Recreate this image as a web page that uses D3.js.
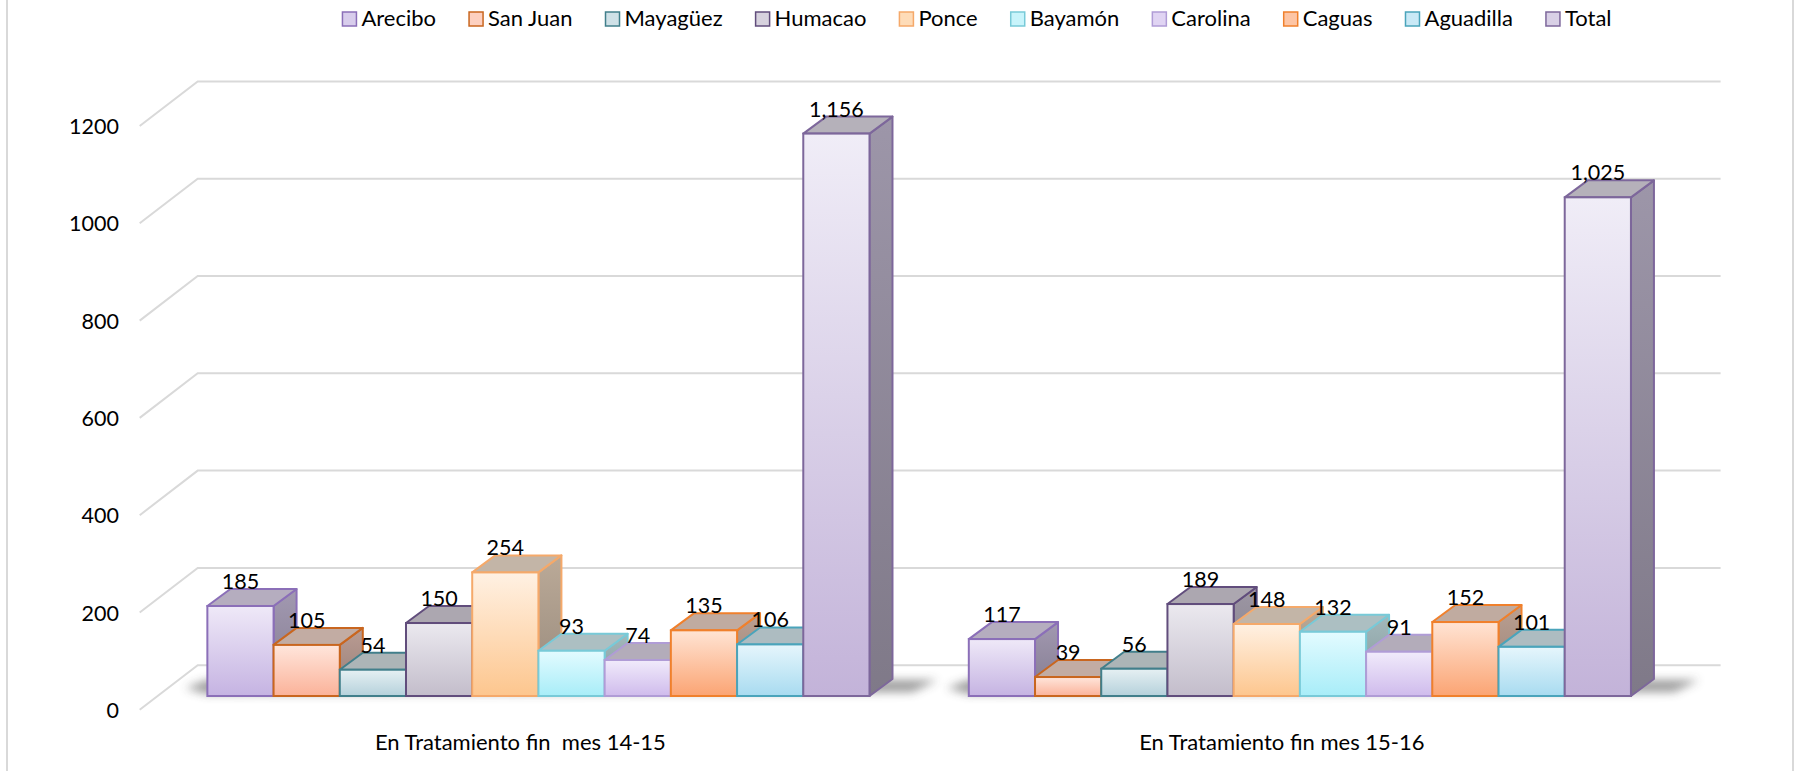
<!DOCTYPE html>
<html><head><meta charset="utf-8">
<script src="https://cdn.jsdelivr.net/npm/d3@7"></script>
<style>
body{margin:0;background:#fff;}
svg{display:block;font-family:Lato,"Open Sans",sans-serif;}
</style>
</head><body>
<svg id="c" width="1795" height="771"></svg>
<script>
// ---------- data ----------
const categories = ["En Tratamiento fin  mes 14-15", "En Tratamiento fin mes 15-16"];
const seriesNames = ["Arecibo","San Juan","Mayagüez","Humacao","Ponce","Bayamón","Carolina","Caguas","Aguadilla","Total"];
const values1415 = [185,105,54,150,254,93,74,135,106,1156];
const values1516 = [117,39,56,189,148,132,91,152,101,1025];
const yTicks = [0,200,400,600,800,1000,1200];
const seriesByCategory = [values1415, values1516];

// ---------- styles ----------
const seriesStyles = [
  {top:"#efe9f8", bot:"#c5b3e2", stroke:"#8b6fb8", lid:"#b5adbf", side:"#8f879c", key:"#d8cdec"},
  {top:"#ffe6dc", bot:"#fbb299", stroke:"#c9661f", lid:"#c2aca3", side:"#a48a82", key:"#fdd0c0"},
  {top:"#e6f0f3", bot:"#b5d1db", stroke:"#417f8b", lid:"#acb5b7", side:"#8f9b9d", key:"#cfe1e7"},
  {top:"#ebe9ef", bot:"#c3bdcb", stroke:"#614d7c", lid:"#aca7b0", side:"#8b8591", key:"#d7d2de"},
  {top:"#fff1e3", bot:"#fdc68e", stroke:"#f5a96a", lid:"#c3b5a7", side:"#a59686", key:"#fedcb8"},
  {top:"#e3fbff", bot:"#a8edf8", stroke:"#78cad8", lid:"#acbfc2", side:"#8fa3a6", key:"#c8f4fb"},
  {top:"#f1ebfb", bot:"#cfbbec", stroke:"#b09cd6", lid:"#b3acba", side:"#958c9e", key:"#e0d4f3"},
  {top:"#ffe4d4", bot:"#fba473", stroke:"#f0802c", lid:"#c0aba0", side:"#a48c80", key:"#fdc5a5"},
  {top:"#e6f6fc", bot:"#a8dbf0", stroke:"#4aa4bb", lid:"#adbcc1", side:"#8d9fa5", key:"#c9e9f6"},
  {top:"#f0edf7", bot:"#c3b3d9", stroke:"#7d679b", lid:"#b5b1ba", side:"#8b8495", key:"#d9d0e6"}
];

const W = 1795, H = 771;
const svg = d3.select("#c");
svg.append("rect").attr("width",W).attr("height",H).attr("fill","#fff");

// geometry
const frontLeft = 139.7, frontRight = 1662.6;
const depth = {dx:58, dy:-44.6};
const barOff = {dx:18, dy:-13.8};
const barDepth = {dx:23, dy:-17};

const y = d3.scaleLinear().domain([0,1200]).range([709.8,126]);
const x = d3.scaleBand().domain(categories).range([frontLeft, frontRight]).padding(0);
const xs = d3.scaleBand().domain(seriesNames).range([0, x.bandwidth()]).paddingInner(0).paddingOuter(0.75);

const defs = svg.append("defs");
seriesStyles.forEach((s,i)=>{
  const g = defs.append("linearGradient").attr("id","gf"+i).attr("x1",0).attr("y1",0).attr("x2",0).attr("y2",1);
  g.append("stop").attr("offset","0%").attr("stop-color",s.top);
  g.append("stop").attr("offset","100%").attr("stop-color",s.bot);
  const g2 = defs.append("linearGradient").attr("id","gs"+i).attr("x1",0).attr("y1",0).attr("x2",0).attr("y2",1);
  g2.append("stop").attr("offset","0%").attr("stop-color",d3.color(s.side).brighter(0.35));
  g2.append("stop").attr("offset","100%").attr("stop-color",d3.color(s.side).darker(0.25));
});
const blur = defs.append("filter").attr("id","blur").attr("x","-50%").attr("y","-200%").attr("width","200%").attr("height","500%");
blur.append("feGaussianBlur").attr("stdDeviation",5);

// frame lines
svg.append("line").attr("x1",7).attr("x2",7).attr("y1",0).attr("y2",H).attr("stroke","#d9d9d9").attr("stroke-width",2);
svg.append("line").attr("x1",1793).attr("x2",1793).attr("y1",0).attr("y2",H).attr("stroke","#d9d9d9").attr("stroke-width",2);

// gridlines (side wall + back wall)
svg.append("g").selectAll("path").data(yTicks).join("path")
  .attr("d", t => `M${frontLeft},${y(t)} L${frontLeft+depth.dx},${y(t)+depth.dy} H${frontRight+depth.dx}`)
  .attr("fill","none").attr("stroke","#d9d9d9").attr("stroke-width",2);

// tick labels
svg.append("g").selectAll("text").data(yTicks).join("text")
  .attr("x",119).attr("y", t=>y(t)).attr("dy","0.38em")
  .attr("text-anchor","end").attr("font-size",21.5).attr("fill","#000")
  .text(d=>d);

// shadows (soft floor shadow behind each cluster)
categories.forEach((c)=>{
  const gx0 = x(c) + xs(seriesNames[0]) + barOff.dx;
  const gx1 = x(c) + xs(seriesNames[seriesNames.length-1]) + xs.bandwidth() + barOff.dx + barDepth.dx;
  const yb = y(0) + barOff.dy;
  svg.append("path")
    .attr("d",`M${gx0-22},${yb-8} L${gx0},${yb-16} L${gx1+45},${yb-16} L${gx1+20},${yb-4} L${gx0},${yb-2} Z`)
    .attr("fill","#3a3a3a").attr("opacity",0.5).attr("filter","url(#blur)");
});

// bars
const labels = [];
categories.forEach((c,ci)=>{
  const vals = seriesByCategory[ci];
  const g = svg.append("g");
  seriesNames.forEach((sname,si)=>{
    const v = vals[si];
    const s = seriesStyles[si];
    const x0 = x(c) + xs(sname) + barOff.dx;
    const x1 = x0 + xs.bandwidth();
    const yb = y(0) + barOff.dy;
    const yt = y(v) + barOff.dy;
    const dx = barDepth.dx, dy = barDepth.dy;
    g.append("path").attr("d",`M${x1},${yt} L${x1+dx},${yt+dy} L${x1+dx},${yb+dy} L${x1},${yb} Z`)
      .attr("fill",`url(#gs${si})`).attr("stroke",s.stroke).attr("stroke-width",2).attr("stroke-linejoin","round");
    g.append("path").attr("d",`M${x0},${yt} L${x0+dx},${yt+dy} L${x1+dx},${yt+dy} L${x1},${yt} Z`)
      .attr("fill",s.lid).attr("stroke",s.stroke).attr("stroke-width",2).attr("stroke-linejoin","round");
    g.append("rect").attr("x",x0).attr("y",yt).attr("width",x1-x0).attr("height",yb-yt)
      .attr("fill",`url(#gf${si})`).attr("stroke",s.stroke).attr("stroke-width",2);
    labels.push({x:(x0+x1)/2, y:yt+dy, v});
  });
});

// data labels
svg.append("g").selectAll("text").data(labels).join("text")
  .attr("x",d=>d.x).attr("y",d=>d.y).attr("text-anchor","middle")
  .attr("font-size",21.5).attr("fill","#000").text(d=>d3.format(",")(d.v));

// category labels
svg.append("g").selectAll("text").data(categories).join("text")
  .attr("x",d=>x(d)+x.bandwidth()/2).attr("y",750).attr("text-anchor","middle")
  .attr("font-size",22).attr("fill","#000").attr("xml:space","preserve").style("white-space","pre")
  .text(d=>d);

// legend
const lg = svg.append("g");
const items = seriesNames.map((n,i)=>{
  const it = lg.append("g");
  it.append("rect").attr("x",0).attr("y",12).attr("width",14).attr("height",14)
    .attr("fill",seriesStyles[i].key).attr("stroke",seriesStyles[i].stroke).attr("stroke-width",1.5);
  const t = it.append("text").attr("x",19).attr("y",26).attr("font-size",22).attr("fill","#000").text(n);
  return {it, w: 19 + t.node().getComputedTextLength()};
});
const gap = 33;
const total = d3.sum(items, d=>d.w) + gap*(items.length-1);
let cx = 977 - total/2;
items.forEach(d=>{ d.it.attr("transform",`translate(${cx},0)`); cx += d.w + gap; });
</script>
</body></html>
